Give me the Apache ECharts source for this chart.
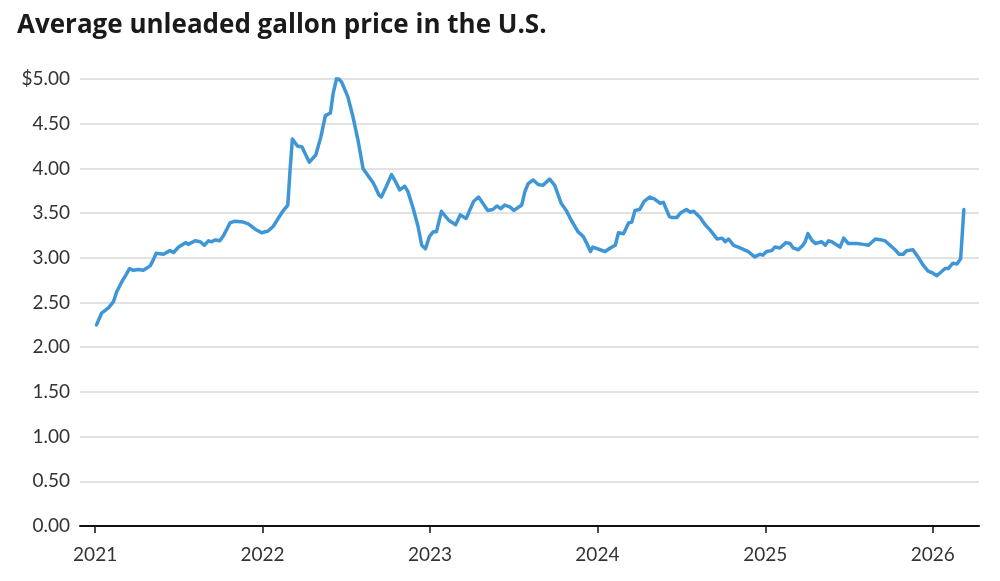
<!DOCTYPE html>
<html>
<head>
<meta charset="utf-8">
<script src="https://cdn.jsdelivr.net/npm/echarts@6/dist/echarts.min.js"></script>
<style>
  html, body { margin: 0; padding: 0; background: #fff; }
  #chart { width: 1000px; height: 581px; }
</style>
</head>
<body>
<div id="chart"></div>
<script>
// weekly-ish readings of the average gallon price
const dates = [
  '2021-01-04', '2021-01-15', '2021-01-30', '2021-02-10', '2021-02-17', '2021-02-28', '2021-03-07', '2021-03-17',
  '2021-03-25', '2021-04-05', '2021-04-16', '2021-05-01', '2021-05-08', '2021-05-14', '2021-05-30', '2021-06-13',
  '2021-06-21', '2021-07-02', '2021-07-18', '2021-07-23', '2021-08-07', '2021-08-18', '2021-08-27', '2021-09-05',
  '2021-09-12', '2021-09-20', '2021-09-30', '2021-10-08', '2021-10-22', '2021-11-02', '2021-11-20', '2021-12-01',
  '2021-12-16', '2021-12-30', '2022-01-13', '2022-01-24', '2022-02-04', '2022-02-14', '2022-02-25', '2022-03-02',
  '2022-03-07', '2022-03-18', '2022-03-28', '2022-04-13', '2022-04-27', '2022-05-08', '2022-05-18', '2022-05-29',
  '2022-06-04', '2022-06-12', '2022-06-22', '2022-07-06', '2022-07-17', '2022-07-28', '2022-08-08', '2022-08-23',
  '2022-08-30', '2022-09-03', '2022-09-12', '2022-09-17', '2022-09-28', '2022-10-09', '2022-10-16', '2022-10-27',
  '2022-11-07', '2022-11-14', '2022-11-25', '2022-12-06', '2022-12-14', '2022-12-22', '2022-12-31', '2023-01-08',
  '2023-01-15', '2023-01-26', '2023-02-11', '2023-02-26', '2023-03-08', '2023-03-21', '2023-03-26', '2023-04-06',
  '2023-04-17', '2023-05-07', '2023-05-18', '2023-05-27', '2023-06-04', '2023-06-13', '2023-06-24', '2023-07-03',
  '2023-07-20', '2023-07-27', '2023-08-03', '2023-08-14', '2023-08-25', '2023-09-04', '2023-09-19', '2023-09-30',
  '2023-10-14', '2023-10-25', '2023-11-05', '2023-11-20', '2023-12-01', '2023-12-09', '2023-12-17', '2023-12-22',
  '2024-01-07', '2024-01-18', '2024-01-29', '2024-02-09', '2024-02-16', '2024-02-27', '2024-03-09', '2024-03-16',
  '2024-03-23', '2024-04-02', '2024-04-12', '2024-04-24', '2024-05-04', '2024-05-17', '2024-05-24', '2024-06-06',
  '2024-06-12', '2024-06-22', '2024-06-30', '2024-07-13', '2024-07-21', '2024-07-29', '2024-08-12', '2024-08-23',
  '2024-09-03', '2024-09-18', '2024-09-29', '2024-10-06', '2024-10-13', '2024-10-24', '2024-11-07', '2024-11-25',
  '2024-12-09', '2024-12-20', '2024-12-27', '2025-01-04', '2025-01-15', '2025-01-22', '2025-02-02', '2025-02-15',
  '2025-02-24', '2025-03-03', '2025-03-14', '2025-03-24', '2025-03-29', '2025-04-04', '2025-04-12', '2025-04-20',
  '2025-05-04', '2025-05-12', '2025-05-19', '2025-05-26', '2025-06-13', '2025-06-21', '2025-07-01', '2025-07-20',
  '2025-08-03', '2025-08-14', '2025-08-29', '2025-09-12', '2025-09-19', '2025-09-30', '2025-10-11', '2025-10-20',
  '2025-10-29', '2025-11-05', '2025-11-19', '2025-11-30', '2025-12-11', '2025-12-22', '2026-01-01', '2026-01-10',
  '2026-01-17', '2026-01-28', '2026-02-04', '2026-02-14', '2026-02-23', '2026-03-03', '2026-03-10'
];
const prices = [
  2.25, 2.38, 2.44, 2.51, 2.62, 2.73, 2.79, 2.88,
  2.86, 2.87, 2.86, 2.91, 2.98, 3.05, 3.04, 3.08,
  3.06, 3.12, 3.17, 3.15, 3.19, 3.18, 3.14, 3.19,
  3.18, 3.20, 3.19, 3.25, 3.39, 3.41, 3.40, 3.38,
  3.32, 3.28, 3.30, 3.35, 3.44, 3.52, 3.59, 3.98,
  4.33, 4.25, 4.24, 4.07, 4.15, 4.35, 4.59, 4.62,
  4.84, 5.02, 4.97, 4.80, 4.58, 4.32, 4.00, 3.89,
  3.84, 3.80, 3.70, 3.68, 3.80, 3.93, 3.87, 3.76,
  3.80, 3.74, 3.56, 3.35, 3.14, 3.10, 3.24, 3.29,
  3.29, 3.52, 3.42, 3.37, 3.48, 3.44, 3.50, 3.63,
  3.68, 3.53, 3.54, 3.58, 3.55, 3.59, 3.57, 3.53,
  3.59, 3.74, 3.83, 3.87, 3.82, 3.81, 3.88, 3.81,
  3.61, 3.53, 3.42, 3.29, 3.24, 3.16, 3.07, 3.12,
  3.09, 3.07, 3.11, 3.14, 3.28, 3.27, 3.39, 3.40,
  3.53, 3.54, 3.63, 3.68, 3.66, 3.61, 3.62, 3.46,
  3.45, 3.45, 3.50, 3.54, 3.51, 3.52, 3.45, 3.37,
  3.31, 3.21, 3.22, 3.18, 3.21, 3.14, 3.11, 3.07,
  3.01, 3.04, 3.03, 3.07, 3.08, 3.12, 3.11, 3.17,
  3.16, 3.11, 3.09, 3.14, 3.18, 3.27, 3.20, 3.16,
  3.18, 3.14, 3.19, 3.18, 3.12, 3.22, 3.16, 3.16,
  3.15, 3.14, 3.21, 3.20, 3.19, 3.14, 3.09, 3.04,
  3.04, 3.08, 3.09, 3.01, 2.92, 2.85, 2.83, 2.80,
  2.83, 2.88, 2.88, 2.94, 2.93, 2.99, 3.54
];
const yearTicks = [2021, 2022, 2023, 2024, 2025, 2026];
const yTicks = [0, 0.5, 1, 1.5, 2, 2.5, 3, 3.5, 4, 4.5, 5];

const toTime = (s) => {
  const p = s.split('-');
  return new Date(+p[0], +p[1] - 1, +p[2]).getTime();
};
const yearTimes = yearTicks.map((y) => new Date(y, 0, 1).getTime());

const chart = echarts.init(document.getElementById('chart'));
const option = {
  animation: false,
  title: {
    text: 'Average unleaded gallon price in the U.S.',
    left: 12,
    top: 8,
    textStyle: {
      fontFamily: 'Open Sans',
      fontWeight: 700,
      fontSize: 26,
      color: '#1a1a1a',
    },
  },
  grid: {
    left: 80,
    right: 21,
    top: 79,
    bottom: 55,
    containLabel: false,
  },
  xAxis: {
    type: 'value',
    min: toTime('2020-11-29'),
    max: toTime('2026-04-12'),
    splitLine: { show: false },
    axisLine: { lineStyle: { color: '#111', width: 2 } },
    axisTick: {
      show: true,
      customValues: yearTimes,
      length: 7,
      lineStyle: { color: '#111', width: 1.5 },
    },
    axisLabel: {
      customValues: yearTimes,
      margin: 19,
      fontFamily: 'Lato',
      fontSize: 19,
      color: '#333',
      formatter: (v) => String(new Date(v).getFullYear()),
    },
  },
  yAxis: {
    type: 'value',
    min: yTicks[0],
    max: yTicks[yTicks.length - 1],
    interval: 0.5,
    axisLine: { show: false },
    axisTick: { show: false },
    axisLabel: {
      margin: 10,
      fontFamily: 'Lato',
      fontSize: 19,
      color: '#333',
      formatter: (v) => (v === 5 ? '$5.00' : v.toFixed(2)),
    },
    splitLine: { lineStyle: { color: '#d9d9d9', width: 1.5 } },
  },
  series: [
    {
      type: 'line',
      data: dates.map((d, i) => [toTime(d), prices[i]]),
      showSymbol: false,
      smooth: false,
      lineStyle: { color: '#3f96d6', width: 3.5, join: 'round', cap: 'round' },
    },
  ],
};
chart.setOption(option);
</script>
</body>
</html>
